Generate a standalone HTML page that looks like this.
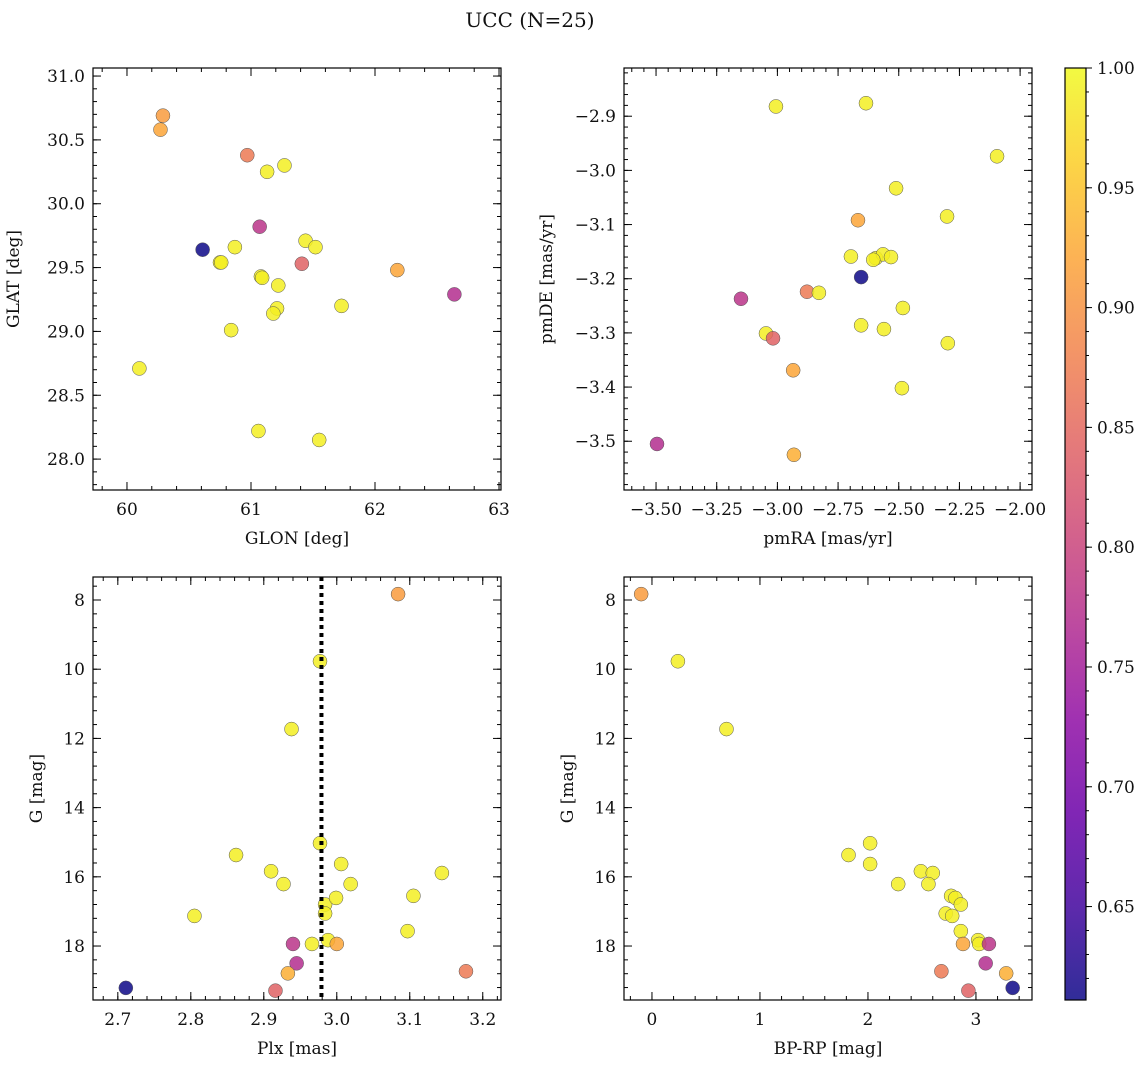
<!DOCTYPE html>
<html><head><meta charset="utf-8"><style>
body{margin:0;background:#fff;}
svg text{font-family:"DejaVu Serif","Liberation Serif",serif;fill:#111;}
</style></head><body>
<svg id="fig" width="1148" height="1067" xmlns="http://www.w3.org/2000/svg">
<text x="530" y="27" font-size="20" text-anchor="middle">UCC (N=25)</text>
</svg>
<script>
// ---- data ----
const pmin = 0.611, pmax = 1.0;
const tlGlon = [60.29,60.27,60.97,61.27,61.13,61.07,61.44,60.61,60.87,61.52,60.75,60.76,61.08,61.09,61.41,62.18,62.64,61.22,61.21,61.18,61.73,60.84,60.10,61.06,61.55];
const tlGlat = [30.69,30.58,30.38,30.30,30.25,29.82,29.71,29.64,29.66,29.66,29.54,29.54,29.43,29.42,29.53,29.48,29.29,29.36,29.18,29.14,29.20,29.01,28.71,28.22,28.15];
const tlProb = [0.91,0.92,0.87,0.99,0.99,0.78,0.99,0.611,0.99,0.99,0.99,0.99,0.99,0.99,0.84,0.92,0.77,0.99,0.99,0.99,0.99,0.99,0.99,0.99,0.99];
const trPmra = [-3.006,-2.635,-2.095,-2.511,-2.301,-2.668,-2.697,-2.594,-2.565,-2.532,-2.655,-2.878,-2.829,-3.150,-3.047,-3.018,-2.655,-2.561,-2.483,-2.298,-2.935,-2.487,-3.496,-2.932,-2.605];
const trPmde = [-2.882,-2.876,-2.974,-3.033,-3.085,-3.092,-3.159,-3.162,-3.155,-3.160,-3.197,-3.224,-3.226,-3.237,-3.301,-3.310,-3.286,-3.293,-3.254,-3.319,-3.369,-3.402,-3.505,-3.525,-3.165];
const trProb = [0.99,0.99,0.99,0.99,0.99,0.92,0.99,0.99,0.99,0.99,0.611,0.87,0.99,0.78,0.99,0.84,0.99,0.99,0.99,0.99,0.92,0.99,0.77,0.93,0.99];
const blPlx = [3.084,2.977,2.938,2.862,2.977,3.006,2.910,2.927,3.144,3.019,3.105,2.805,2.984,2.984,2.999,3.097,2.988,2.940,2.966,3.000,2.945,2.933,3.177,2.711,2.916];
const blG = [7.83,9.77,11.73,15.37,15.03,15.63,15.84,16.21,15.89,16.21,16.55,17.13,16.80,17.06,16.61,17.57,17.83,17.94,17.94,17.94,18.50,18.79,18.73,19.21,19.29];
const blProb = [0.91,0.99,0.99,0.99,0.99,0.99,0.99,0.99,0.99,0.99,0.99,0.99,0.99,0.99,0.99,0.99,0.99,0.78,0.99,0.92,0.77,0.93,0.87,0.611,0.84];
const plxMedian = 2.979;
const brBprp = [-0.10,0.24,0.69,1.82,2.02,2.02,2.28,2.49,2.60,2.56,2.77,2.81,2.86,2.72,2.78,2.86,3.02,3.03,2.88,3.12,3.09,3.28,2.68,2.93,3.34];
const brG = [7.83,9.77,11.73,15.37,15.03,15.63,16.21,15.84,15.89,16.21,16.55,16.61,16.80,17.06,17.13,17.57,17.83,17.94,17.94,17.94,18.50,18.79,18.73,19.29,19.21];
const brProb = [0.91,0.99,0.99,0.99,0.99,0.99,0.99,0.99,0.99,0.99,0.99,0.99,0.99,0.99,0.99,0.99,0.99,0.99,0.92,0.78,0.77,0.93,0.87,0.84,0.611];
const cbTicks = [0.65,0.70,0.75,0.80,0.85,0.90,0.95,1.00];

const NS="http://www.w3.org/2000/svg";
const svg=document.getElementById('fig');
function mk(tag,attrs,parent){const e=document.createElementNS(NS,tag);for(const k in attrs)e.setAttribute(k,attrs[k]);(parent||svg).appendChild(e);return e;}
const stops=[[0,[13,8,135]],[0.1,[65,4,157]],[0.2,[106,0,168]],[0.3,[143,13,164]],[0.4,[177,42,144]],[0.5,[204,71,120]],[0.6,[225,100,98]],[0.7,[242,132,75]],[0.8,[252,166,54]],[0.9,[252,206,37]],[1,[240,249,33]]];
function plasma(t){t=Math.max(0,Math.min(1,t));for(let i=1;i<stops.length;i++){if(t<=stops[i][0]){const a=stops[i-1],b=stops[i];const f=(t-a[0])/(b[0]-a[0]);const c=a[1].map((v,j)=>Math.round(v+(b[1][j]-v)*f));return `rgb(${c[0]},${c[1]},${c[2]})`;}}return 'rgb(240,249,33)';}
function col(p){return plasma((p-pmin)/(pmax-pmin));}
function fmt(v,d){const s=Math.abs(v).toFixed(d);return (v<-1e-9?'\u2212':'')+s;}

function panel(o){
  const g=mk('g',{});
  
  
  const X=v=>o.x0+(v-o.xd[0])/(o.xd[1]-o.xd[0])*(o.x1-o.x0);
  const Y=v=>o.y0+(v-o.yd[0])/(o.yd[1]-o.yd[0])*(o.y1-o.y0);
  const inx=v=>v>=Math.min(...o.xd)-1e-9&&v<=Math.max(...o.xd)+1e-9;
  const iny=v=>v>=Math.min(...o.yd)-1e-9&&v<=Math.max(...o.yd)+1e-9;
  for(let i=0;i<o.xs.length;i++){
    const c=mk('circle',{cx:X(o.xs[i]),cy:Y(o.ys[i]),r:7,fill:col(o.ps[i]),'fill-opacity':0.85,stroke:'#555','stroke-width':0.5},g);
    
    
  }
  if(o.vline!==undefined){
    const l=mk('line',{x1:X(o.vline),x2:X(o.vline),y1:o.y0,y2:o.y1,stroke:'#000','stroke-width':4,'stroke-dasharray':'4,4'},g);
    
    
  }
  const lo=Math.min(...o.xd),hi=Math.max(...o.xd);
  for(let v=Math.ceil(lo/o.xminor)*o.xminor;v<=hi;v+=o.xminor){const x=X(v);mk('line',{x1:x,x2:x,y1:o.y1,y2:o.y1-4,stroke:'#000'},g);mk('line',{x1:x,x2:x,y1:o.y0,y2:o.y0+4,stroke:'#000'},g);}
  const ylo=Math.min(...o.yd),yhi=Math.max(...o.yd);
  for(let v=Math.ceil(ylo/o.yminor)*o.yminor;v<=yhi;v+=o.yminor){const y=Y(v);mk('line',{x1:o.x0,x2:o.x0+4,y1:y,y2:y,stroke:'#000'},g);mk('line',{x1:o.x1,x2:o.x1-4,y1:y,y2:y,stroke:'#000'},g);}
  o.xt.forEach(v=>{if(!inx(v))return;const x=X(v);mk('line',{x1:x,x2:x,y1:o.y1,y2:o.y1-8,stroke:'#000'},g);mk('line',{x1:x,x2:x,y1:o.y0,y2:o.y0+8,stroke:'#000'},g);
    const t=mk('text',{x:x,y:o.y1+25,'font-size':17,'text-anchor':'middle'},g);t.textContent=fmt(v,o.xdec);
    });
  o.yt.forEach(v=>{if(!iny(v))return;const y=Y(v);mk('line',{x1:o.x0,x2:o.x0+8,y1:y,y2:y,stroke:'#000'},g);mk('line',{x1:o.x1,x2:o.x1-8,y1:y,y2:y,stroke:'#000'},g);
    const t=mk('text',{x:o.x0-8,y:y+6,'font-size':17,'text-anchor':'end'},g);t.textContent=fmt(v,o.ydec);
    });
  const fr=mk('rect',{x:o.x0,y:o.y0,width:o.x1-o.x0,height:o.y1-o.y0,fill:'none',stroke:'#000','stroke-width':1.2},g);
  
  const xl=mk('text',{x:(o.x0+o.x1)/2,y:o.y1+54,'font-size':17,'text-anchor':'middle'},g);xl.textContent=o.xlab;
  
  const yl=mk('text',{x:o.ylx,y:(o.y0+o.y1)/2,'font-size':17,'text-anchor':'middle',transform:`rotate(-90 ${o.ylx} ${(o.y0+o.y1)/2})`},g);yl.textContent=o.ylab;
  
}
function rng(a,b,s){const r=[];for(let v=a;v<=b+1e-9;v+=s)r.push(Math.round(v*1000)/1000);return r;}

panel({name:'glon-glat-panel',x0:93,x1:501,y0:68,y1:490,xd:[59.726,63.016],yd:[31.063,27.758],xs:tlGlon,ys:tlGlat,ps:tlProb,
 xt:[60,61,62,63],xdec:0,xminor:0.2,yt:rng(28,31,0.5),ydec:1,yminor:0.1,xlab:'GLON [deg]',ylab:'GLAT [deg]',ylx:19});
panel({name:'pm-panel',x0:624,x1:1032,y0:68,y1:490,xd:[-3.632,-1.951],yd:[-2.811,-3.590],xs:trPmra,ys:trPmde,ps:trProb,
 xt:rng(-3.5,-2,0.25),xdec:2,xminor:0.05,yt:rng(-3.5,-2.9,0.1),ydec:1,yminor:0.02,xlab:'pmRA [mas/yr]',ylab:'pmDE [mas/yr]',ylx:552});
panel({name:'plx-g-panel',x0:93,x1:501,y0:577,y1:1000,xd:[2.666,3.225],yd:[7.335,19.56],xs:blPlx,ys:blG,ps:blProb,vline:plxMedian,
 xt:rng(2.7,3.2,0.1),xdec:1,xminor:0.02,yt:rng(8,18,2),ydec:0,yminor:0.4,xlab:'Plx [mas]',ylab:'G [mag]',ylx:42});
panel({name:'cmd-panel',x0:624,x1:1032,y0:577,y1:1000,xd:[-0.259,3.519],yd:[7.335,19.56],xs:brBprp,ys:brG,ps:brProb,
 xt:[0,1,2,3],xdec:0,xminor:0.2,yt:rng(8,18,2),ydec:0,yminor:0.4,xlab:'BP-RP [mag]',ylab:'G [mag]',ylx:573});

const cb=mk('g',{});


const defs=mk('defs',{},cb);
const lg=mk('linearGradient',{id:'cbg',x1:0,y1:1,x2:0,y2:0},defs);
for(let i=0;i<=20;i++){mk('stop',{offset:i/20,'stop-color':plasma(i/20)},lg);}
const cx0=1065,cx1=1086,cy0=68,cy1=1000;
const cbr=mk('rect',{x:cx0,y:cy0,width:cx1-cx0,height:cy1-cy0,fill:'url(#cbg)','fill-opacity':0.85,stroke:'#000','stroke-width':1.2},cb);

const CY=v=>cy1-(v-pmin)/(pmax-pmin)*(cy1-cy0);
for(let v=0.62;v<=1.0001;v+=0.01){const y=CY(v);mk('line',{x1:cx1,x2:cx1+3,y1:y,y2:y,stroke:'#000'},cb);}
cbTicks.forEach(v=>{const y=CY(v);mk('line',{x1:cx1,x2:cx1+6,y1:y,y2:y,stroke:'#000'},cb);
 const t=mk('text',{x:cx1+11,y:y+6,'font-size':17},cb);t.textContent=v.toFixed(2);
 });
</script>
</body></html>
